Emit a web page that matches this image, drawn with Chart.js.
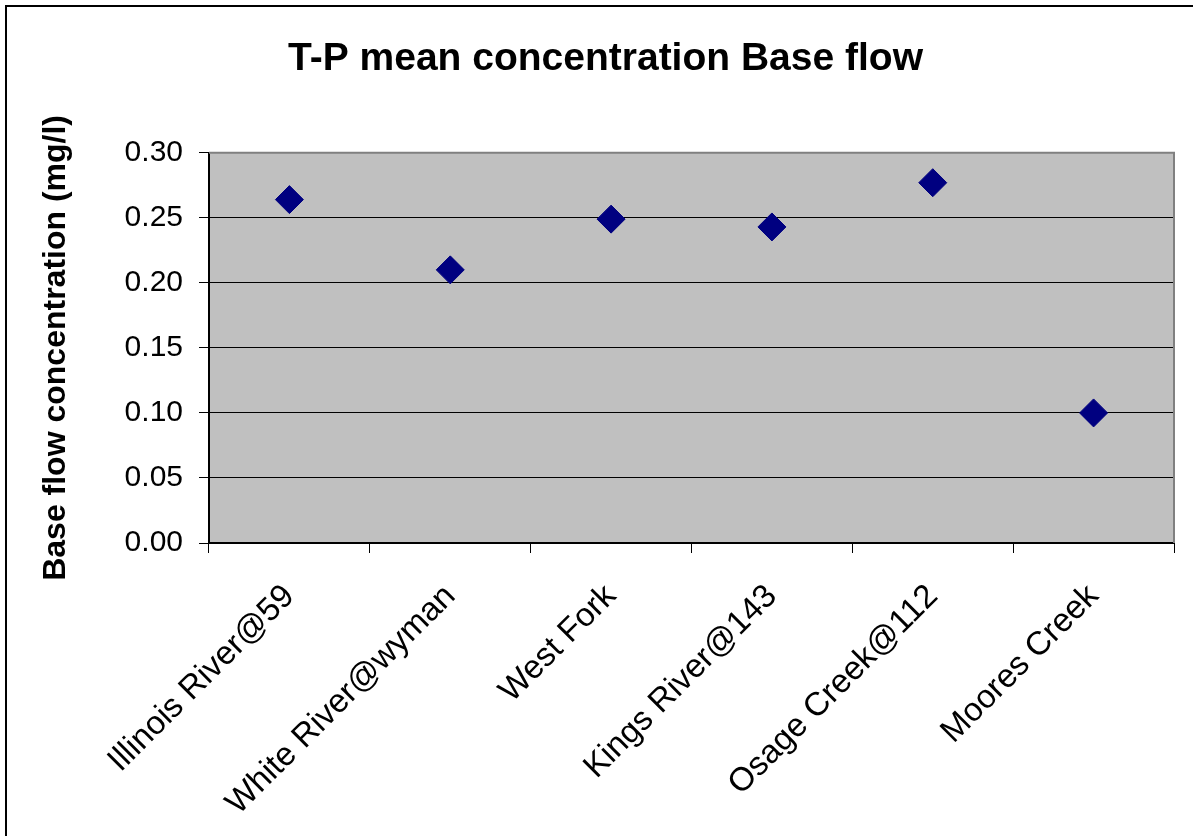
<!DOCTYPE html>
<html>
<head>
<meta charset="utf-8">
<script src="https://cdn.jsdelivr.net/npm/chart.js@4"></script>
<style>
  html, body { margin: 0; padding: 0; background: #fff; }
  #wrap { width: 1193px; height: 836px; }
</style>
</head>
<body>
<div id="wrap"><canvas id="tpChart"></canvas></div>
<script>
const sites = ['Illinois River@59', 'White River@wyman', 'West Fork', 'Kings River@143', 'Osage Creek@112', 'Moores Creek'];
const tpMean = [0.264, 0.210, 0.249, 0.243, 0.277, 0.100];
const yMin = 0;
const yMax = 0.30;
const yStep = 0.05;

const fontFamily = 'Arial, "Liberation Sans", Helvetica, sans-serif';

// grey plot background, grey top/right frame and the outer border of the sheet
const plotFrame = {
    id: 'plotFrame',
    beforeDraw(chart) {
        const ctx = chart.ctx;
        const a = chart.chartArea;
        ctx.save();
        ctx.fillStyle = '#fff';
        ctx.fillRect(0, 0, chart.width, chart.height);
        ctx.fillStyle = '#C0C0C0';
        ctx.fillRect(a.left, a.top, a.right - a.left, a.bottom - a.top);
        ctx.restore();
    },
    afterDraw(chart) {
        const ctx = chart.ctx;
        const a = chart.chartArea;
        ctx.save();
        ctx.strokeStyle = '#808080';
        ctx.lineWidth = 2;
        ctx.beginPath();
        ctx.moveTo(a.left, a.top);
        ctx.lineTo(a.right, a.top);
        ctx.lineTo(a.right, a.bottom);
        ctx.stroke();
        ctx.strokeStyle = '#000';
        ctx.lineWidth = 2;
        ctx.strokeRect(6, 6, chart.width + 20, chart.height + 20);
        ctx.restore();
    }
};

const ctx = document.getElementById('tpChart').getContext('2d');
new Chart(ctx, {
    type: 'line',
    data: {
        labels: sites,
        datasets: [{
            label: 'T-P mean',
            data: tpMean,
            showLine: false,
            pointStyle: 'rectRot',
            pointRadius: 14,
            pointHoverRadius: 14,
            pointBackgroundColor: '#000080',
            pointBorderColor: '#000080',
            pointBorderWidth: 1
        }]
    },
    options: {
        responsive: true,
        maintainAspectRatio: false,
        animation: false,
        layout: {
            padding: { left: 37, right: 19, top: 0, bottom: 0 }
        },
        plugins: {
            legend: { display: false },
            tooltip: { enabled: false },
            title: {
                display: true,
                text: 'T-P mean concentration Base flow',
                color: '#000',
                font: { family: fontFamily, size: 39, weight: 'bold' },
                padding: { top: 36, bottom: 70 }
            }
        },
        scales: {
            x: {
                offset: true,
                grid: {
                    offset: true,
                    drawOnChartArea: false,
                    drawTicks: true,
                    tickLength: 10,
                    color: '#000',
                    lineWidth: 1
                },
                border: { color: '#000', width: 2 },
                ticks: {
                    color: '#000',
                    font: { family: fontFamily, size: 33 },
                    maxRotation: 45,
                    minRotation: 45,
                    autoSkip: false,
                    padding: 24
                },
                afterFit(scale) { scale.height = 293; }
            },
            y: {
                min: yMin,
                max: yMax,
                grid: {
                    color: '#000',
                    lineWidth: 1,
                    drawTicks: true,
                    tickLength: 10
                },
                border: { color: '#000', width: 2 },
                ticks: {
                    stepSize: yStep,
                    color: '#000',
                    padding: 16,
                    font: { family: fontFamily, size: 30 },
                    callback: v => v.toFixed(2)
                },
                title: {
                    display: true,
                    text: 'Base flow concentration (mg/l)',
                    color: '#000',
                    font: { family: fontFamily, size: 32, weight: 'bold' },
                    padding: 0
                },
                afterFit(scale) { scale.width = 209 - 37; }
            }
        }
    },
    plugins: [plotFrame]
});
</script>
</body>
</html>
